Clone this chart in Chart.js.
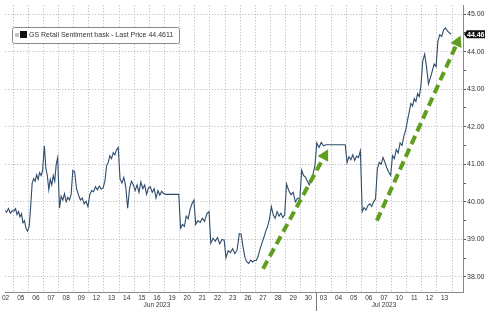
<!DOCTYPE html>
<html lang="en">
<head>
<meta charset="UTF-8">
<title>GS Retail Sentiment basket</title>
<style>
  html, body { margin: 0; padding: 0; background: #fff; }
  .chartBox { width: 485px; height: 311px; }
</style>
</head>
<body>
<div class="chartBox"><canvas id="myChart"></canvas></div>

<script src="https://cdn.jsdelivr.net/npm/chart.js@4"></script>
<script>
// trading days shown on the x axis
const dayLabels = ['02','05','06','07','08','09','12','13','14','15','16','19','20','21','22','23','26','27','28','29','30',
                   '03','04','05','06','07','10','11','12','13'];
const monthNames = ['Jun 2023', 'Jul 2023'];
const monthStarts = [0, 21];   // index of first day of each month

// intraday prices, one list per trading day
const sessionPrices = [
  [39.74, 39.80, 39.68, 39.78, 39.72, 39.82, 39.70, 39.76],
  [39.76, 39.82, 39.66, 39.74, 39.60, 39.68, 39.44, 39.50, 39.30, 39.22],
  [39.35, 39.90, 40.50, 40.62, 40.55, 40.72, 40.60, 40.78, 40.70, 40.82],
  [41.49, 40.90, 40.70, 40.32, 40.60, 40.45, 40.70, 40.55, 41.00, 41.18],
  [39.83, 40.15, 40.05, 40.22, 40.00, 40.12, 40.05, 40.20, 40.84],
  [40.80, 40.35, 40.19, 40.05, 40.10, 39.95, 40.02, 39.87],
  [40.19, 40.30, 40.27, 40.40, 40.32, 40.42, 40.34, 40.37],
  [40.55, 40.96, 41.05, 41.23, 41.15, 41.31, 41.25, 41.39, 41.45],
  [40.61, 40.50, 40.65, 40.40, 39.83, 40.35, 40.55, 40.45],
  [40.30, 40.45, 40.25, 40.53, 40.35, 40.45, 40.20, 40.38],
  [40.40, 40.25, 40.35, 40.10, 40.30, 40.18, 40.28, 40.22],
  [40.20, 40.20],
  [39.30, 39.40, 39.35, 39.62, 39.55, 39.80, 39.95, 40.05],
  [39.40, 39.50, 39.45, 39.56, 39.48, 39.68, 39.74],
  [38.90, 39.03, 38.95, 39.05, 38.88, 39.00, 38.98],
  [38.51, 38.70, 38.65, 38.75, 38.62, 38.72, 39.15],
  [39.14, 38.80, 38.52, 38.40, 38.36, 38.45, 38.40, 38.44],
  [38.44, 38.55, 38.75, 38.90, 39.05, 39.22, 39.35, 39.56],
  [39.87, 39.65, 39.56, 39.74, 39.62, 39.70, 39.58, 39.66],
  [40.48, 40.30, 40.19, 40.25, 40.00, 40.10, 40.08],
  [40.84, 40.70, 40.66, 40.55, 40.45, 40.60, 40.75, 40.97],
  [41.57, 41.45, 41.58, 41.49, 41.52, 41.52, 41.52],
  [41.52, 41.52],
  [41.05, 41.20, 41.12, 41.25, 41.10, 41.22, 41.18, 41.36],
  [39.74, 39.85, 39.78, 39.90, 39.95, 39.88, 40.00, 40.08],
  [40.87, 41.05, 41.00, 41.18, 41.05, 40.90, 40.79, 40.70],
  [41.23, 41.15, 41.39, 41.30, 41.57, 41.50, 41.75, 41.92],
  [42.18, 42.40, 42.62, 42.55, 42.75, 42.67, 42.88, 42.80, 43.09],
  [43.75, 43.93, 43.59, 43.14, 43.30, 43.48, 43.67, 43.60],
  [44.27, 44.45, 44.40, 44.58, 44.63, 44.55, 44.50, 44.4611]
];
const lastPrice = 44.4611;
const seriesName = 'GS Retail Sentiment bask - Last Price 44.4611';

// green trend arrows: [fromDay, fromPrice, toDay, toPrice]
const trendArrows = [
  [17.51, 38.22, 21.81, 41.40],
  [25.03, 39.50, 30.56, 44.43]
];

const yMin = 37.6, yMax = 45.235;
const xMin = 0.477, xMax = 30.72;

// build points, each day's prices spread over its own slot
let points = [];
sessionPrices.forEach((vals, d) => {
  vals.forEach((v, k) => {
    points.push({x: d + 0.06 + 0.88 * k / (vals.length - 1), y: v});
  });
});

const isWhole = v => Math.abs(v - Math.round(v)) < 1e-6;

// month separator, month captions are in the tick labels
const overlay = {
  id: 'overlay',
  afterDatasetsDraw(chart) {
    const {ctx, chartArea, scales: {x, y}} = chart;
    ctx.save();
    // trend arrows
    ctx.strokeStyle = '#5f9e1e';
    ctx.fillStyle = '#5f9e1e';
    ctx.lineWidth = 4;
    trendArrows.forEach(a => {
      const x0 = x.getPixelForValue(a[0]), y0 = y.getPixelForValue(a[1]);
      const x1 = x.getPixelForValue(a[2]), y1 = y.getPixelForValue(a[3]);
      const ang = Math.atan2(y1 - y0, x1 - x0);
      const head = 11, half = 6;
      const bx = x1 - head * Math.cos(ang), by = y1 - head * Math.sin(ang);
      ctx.setLineDash([9, 5]);
      ctx.beginPath();
      ctx.moveTo(x0, y0);
      ctx.lineTo(bx, by);
      ctx.stroke();
      ctx.setLineDash([]);
      ctx.beginPath();
      ctx.moveTo(x1, y1);
      ctx.lineTo(bx + half * Math.sin(ang), by - half * Math.cos(ang));
      ctx.lineTo(bx - half * Math.sin(ang), by + half * Math.cos(ang));
      ctx.closePath();
      ctx.fill();
    });
    ctx.restore();
  },
  afterDraw(chart) {
    const {ctx, chartArea, scales: {x, y}} = chart;
    ctx.save();
    // month separator line
    ctx.strokeStyle = '#777';
    ctx.lineWidth = 1;
    monthStarts.slice(1).forEach(m => {
      const px = Math.round(x.getPixelForValue(m)) + 0.5;
      ctx.beginPath();
      ctx.moveTo(px, chartArea.bottom);
      ctx.lineTo(px, chart.height);
      ctx.stroke();
    });

    // legend box
    const lx = 12, ly = 27, lw = 167, lh = 16;
    ctx.fillStyle = '#fff';
    ctx.strokeStyle = '#8a8a8a';
    ctx.beginPath();
    ctx.roundRect(lx + 0.5, ly + 0.5, lw, lh, 2);
    ctx.fill();
    ctx.stroke();
    ctx.fillStyle = '#c4c4c4';
    ctx.fillRect(lx + 3, ly + 6, 4, 4);
    ctx.fillStyle = '#111';
    ctx.fillRect(lx + 8, ly + 4, 7, 7);
    ctx.fillStyle = '#333';
    ctx.font = '7px "Liberation Sans"';
    ctx.textBaseline = 'middle';
    ctx.fillText(seriesName, lx + 17, ly + 8.5, 148);

    // last price tag
    const py = y.getPixelForValue(lastPrice);
    const tx = chartArea.right + 3;
    ctx.fillStyle = '#111';
    ctx.beginPath();
    ctx.moveTo(tx - 2, py);
    ctx.lineTo(tx + 1, py - 4);
    ctx.lineTo(chart.width, py - 4);
    ctx.lineTo(chart.width, py + 4);
    ctx.lineTo(tx + 1, py + 4);
    ctx.closePath();
    ctx.fill();
    ctx.fillStyle = '#fff';
    ctx.font = 'bold 7px "Liberation Sans"';
    ctx.fillText(lastPrice.toFixed(2), tx + 1, py + 0.5);
    ctx.restore();
  }
};

const ctx = document.getElementById('myChart').getContext('2d');
const chart = new Chart(ctx, {
  type: 'line',
  data: {
    datasets: [{
      label: seriesName,
      data: points,
      borderColor: '#2e4c6c',
      borderWidth: 1.1,
      pointRadius: 0,
      tension: 0
    }]
  },
  options: {
    responsive: true,
    maintainAspectRatio: false,
    animation: false,
    layout: { padding: 0 },
    plugins: { legend: { display: false }, tooltip: { enabled: false } },
    scales: {
      x: {
        type: 'linear',
        min: xMin,
        max: xMax,
        afterBuildTicks: s => { s.ticks = dayLabels.map((d, i) => ({value: i + 0.5})); },
        afterFit: s => { s.height = 19; },
        grid: {
          offset: true,
          drawTicks: false,
          color: c => c.index >= dayLabels.length ? 'transparent' : '#b5b5b5',
          lineWidth: 1
        },
        border: { color: '#888', dash: [1, 2] },
        ticks: {
          autoSkip: false,
          maxRotation: 0,
          padding: 2,
          color: '#333',
          font: { family: 'Liberation Sans', size: 6.5, lineHeight: 1.2 },
          callback: (v, i) => {
            const m = monthStarts.findIndex((s, k) => {
              const end = k + 1 < monthStarts.length ? monthStarts[k + 1] - 1 : dayLabels.length - 1;
              return i === Math.floor((s + end) / 2);
            });
            return m >= 0 ? [dayLabels[i], monthNames[m]] : dayLabels[i];
          }
        }
      },
      y: {
        position: 'right',
        min: yMin,
        max: yMax,
        afterFit: s => { s.width = 22; },
        grid: {
          color: c => isWhole(c.tick.value) ? '#b5b5b5' : 'transparent',
          tickColor: '#555',
          tickLength: 3,
          lineWidth: 1
        },
        border: { color: '#888', dash: [1, 2] },
        ticks: {
          stepSize: 0.5,
          includeBounds: false,
          padding: 1,
          color: '#333',
          font: { family: 'Liberation Sans', size: 7 },
          callback: v => isWhole(v) ? v.toFixed(2) : ''
        }
      }
    }
  },
  plugins: [overlay]
});
</script>
</body>
</html>
